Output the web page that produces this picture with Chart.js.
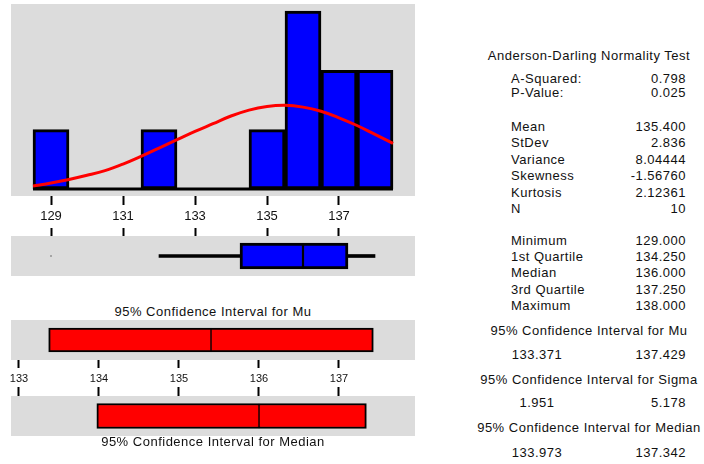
<!DOCTYPE html>
<html lang="en">
<head>
<meta charset="UTF-8">
<title>Graphical Summary</title>
<script src="https://cdn.jsdelivr.net/npm/chart.js"></script>
<style>
  body {
    margin: 0;
    width: 704px;
    height: 464px;
    position: relative;
    overflow: hidden;
    background: #ffffff;
    color: #000000;
    font-family: 'Liberation Sans', Arial, sans-serif;
  }
  canvas { position: absolute; left: 0; }
  .txt {
    position: absolute;
    font-size: 13px;
    line-height: 16px;
    letter-spacing: 0.5px;
    white-space: nowrap;
    color: #111;
  }
  .c { text-align: center; }
  .r { text-align: right; }
</style>
</head>
<body>
<canvas id="histChart" width="415" height="216" style="top:4px"></canvas>
<canvas id="boxChart" width="415" height="48" style="top:228px"></canvas>
<canvas id="muChart" width="415" height="67" style="top:320px"></canvas>
<canvas id="medianChart" width="415" height="49" style="top:387px"></canvas>
<div id="labels"></div>

<script>
// histogram bins (midpoints) and counts
const bins = [129, 130, 131, 132, 133, 134, 135, 136, 137, 138];
const counts = [1, 0, 0, 1, 0, 0, 1, 3, 2, 2];

// fitted normal curve, read at half-unit steps
const fitX = [128.5, 129, 129.5, 130, 130.5, 131, 131.5, 132, 132.5, 133, 133.5,
              134, 134.5, 135, 135.5, 136, 136.5, 137, 137.5, 138, 138.5];
const fitY = [0.05, 0.10, 0.16, 0.23, 0.31, 0.42, 0.55, 0.69, 0.83, 0.97, 1.10,
              1.23, 1.33, 1.39, 1.41, 1.38, 1.31, 1.20, 1.07, 0.92, 0.77];

const histTicks = [129, 131, 133, 135, 137];
const ciTicks = [133, 134, 135, 136, 137];

// summary table
const adNames = ['A-Squared:', 'P-Value:'];
const adValues = [0.798, 0.025];
const statNames = ['Mean', 'StDev', 'Variance', 'Skewness', 'Kurtosis', 'N'];
const statValues = [135.4, 2.836, 8.04444, -1.5676, 2.12361, 10];
const statDigits = [3, 3, 5, 5, 5, 0];
const quartNames = ['Minimum', '1st Quartile', 'Median', '3rd Quartile', 'Maximum'];
const quartValues = [129, 134.25, 136, 137.25, 138];

const whiskerLow = 132;
const outliers = [129];

const ciMu = [133.371, 137.429];
const ciSigma = [1.951, 5.178];
const ciMedian = [133.973, 137.342];

const FONT = "'Liberation Sans', Arial, sans-serif";
const BLUE = '#0000ff';
const RED = '#ff0000';

const mean = statValues[0];
const [minVal, q1, median, q3, maxVal] = quartValues;

// grey panel behind each plot area
const panelBg = {
  id: 'panelBg',
  beforeDraw(chart) {
    const { ctx, chartArea: a } = chart;
    ctx.save();
    ctx.fillStyle = '#dcdcdc';
    ctx.fillRect(a.left, a.top, a.width, a.height);
    ctx.restore();
  }
};

function xAxis(min, max, ticks, pos, tickLen, fontSize, axisH) {
  return {
    type: 'linear',
    position: pos,
    min: min,
    max: max,
    bounds: 'data',
    offset: false,
    beginAtZero: false,
    grid: {
      display: true,
      offset: false,
      drawOnChartArea: false,
      drawTicks: true,
      tickLength: tickLen,
      tickWidth: 2,
      tickColor: '#000'
    },
    border: { display: false },
    ticks: {
      display: fontSize > 0,
      color: '#111',
      font: { family: FONT, size: fontSize || 12 },
      padding: 4,
      maxRotation: 0,
      autoSkip: false
    },
    afterBuildTicks: s => { s.ticks = ticks.map(v => ({ value: v })); },
    afterFit: s => { s.height = axisH; s.paddingLeft = 0; s.paddingRight = 0; }
  };
}

const baseOpts = {
  responsive: false,
  animation: false,
  events: [],
  layout: { autoPadding: false, padding: { left: 11, right: 0, top: 0, bottom: 0 } },
  plugins: { legend: { display: false }, tooltip: { enabled: false } }
};

// x ranges: histogram/boxplot at 36 px per unit, interval plots at 80 px per unit
const histMin = 129 - 40 / 36, histMax = histMin + 404 / 36;
const ciMin = 133 - 8 / 80, ciMax = ciMin + 404 / 80;

// histogram with normal fit
new Chart(document.getElementById('histChart'), {
  type: 'bar',
  data: {
    datasets: [
      {
        type: 'line',
        data: fitX.map((x, i) => ({ x: x, y: fitY[i] })),
        borderColor: RED,
        borderWidth: 3,
        pointRadius: 0,
        tension: 0.4,
        order: 0
      },
      {
        type: 'bar',
        data: bins.map((b, i) => ({ x: b, y: counts[i] })),
        backgroundColor: BLUE,
        borderColor: '#000',
        borderWidth: 3,
        borderSkipped: false,
        barPercentage: 1,
        categoryPercentage: 1,
        order: 1
      },
      {
        type: 'line',
        data: [{ x: bins[0] - 0.5, y: 0 }, { x: bins[bins.length - 1] + 0.5, y: 0 }],
        borderColor: '#000',
        borderWidth: 3,
        pointRadius: 0,
        order: 2
      }
    ]
  },
  options: {
    ...baseOpts,
    scales: {
      x: xAxis(histMin, histMax, histTicks, 'bottom', 9, 13, 24),
      y: { type: 'linear', display: false, min: -7 / 59, max: 3 + 7 / 59 }
    }
  },
  plugins: [panelBg]
});

// split bar: two halves sharing a thin middle edge
function splitBar(lo, mid, hi, color, edge, thickness) {
  const half = edge / 2;
  return [
    {
      data: [[lo, mid]],
      backgroundColor: color,
      borderColor: '#000',
      borderWidth: { top: edge, bottom: edge, left: edge, right: half },
      borderSkipped: false,
      barThickness: thickness,
      grouped: false,
      order: 1
    },
    {
      data: [[mid, hi]],
      backgroundColor: color,
      borderColor: '#000',
      borderWidth: { top: edge, bottom: edge, left: half, right: edge },
      borderSkipped: false,
      barThickness: thickness,
      grouped: false,
      order: 1
    }
  ];
}

function whisker(lo, hi) {
  return {
    data: [[lo, hi]],
    backgroundColor: '#000',
    borderWidth: 0,
    barThickness: 3,
    grouped: false,
    order: 2
  };
}

// boxplot
new Chart(document.getElementById('boxChart'), {
  type: 'bar',
  data: {
    labels: ['box'],
    datasets: [
      ...splitBar(q1, median, q3, BLUE, 3, 26),
      whisker(whiskerLow, q1),
      whisker(q3, maxVal),
      {
        type: 'line',
        data: outliers,
        showLine: false,
        pointStyle: 'rect',
        pointRadius: 0.7,
        pointBackgroundColor: '#000',
        pointBorderWidth: 0,
        order: 0
      }
    ]
  },
  options: {
    ...baseOpts,
    indexAxis: 'y',
    scales: {
      x: xAxis(histMin, histMax, histTicks, 'top', 8, 0, 8),
      y: { type: 'category', display: false, offset: true }
    }
  },
  plugins: [panelBg]
});

// confidence interval for mu
new Chart(document.getElementById('muChart'), {
  type: 'bar',
  data: {
    labels: ['mu'],
    datasets: splitBar(ciMu[0], mean, ciMu[1], RED, 2, 24)
  },
  options: {
    ...baseOpts,
    indexAxis: 'y',
    scales: {
      x: xAxis(ciMin, ciMax, ciTicks, 'bottom', 8, 11, 27),
      y: { type: 'category', display: false, offset: true }
    }
  },
  plugins: [panelBg]
});

// confidence interval for median
new Chart(document.getElementById('medianChart'), {
  type: 'bar',
  data: {
    labels: ['median'],
    datasets: splitBar(ciMedian[0], median, ciMedian[1], RED, 2, 25)
  },
  options: {
    ...baseOpts,
    indexAxis: 'y',
    scales: {
      x: xAxis(ciMin, ciMax, ciTicks, 'top', 9, 0, 9),
      y: { type: 'category', display: false, offset: true }
    }
  },
  plugins: [panelBg]
});

// text blocks
const host = document.getElementById('labels');
function place(text, left, centerY, cls, width) {
  const d = document.createElement('div');
  d.className = 'txt ' + (cls || '');
  d.textContent = text;
  d.style.top = (centerY - 8) + 'px';
  if (cls === 'r') {
    d.style.right = (704 - left) + 'px';
  } else {
    d.style.left = left + 'px';
    if (width) d.style.width = width + 'px';
  }
  host.appendChild(d);
}

const labelX = 511, valueRight = 686;

place('Anderson-Darling Normality Test', 470, 56, 'c', 238);
adNames.forEach((n, i) => {
  place(n, labelX, 79 + i * 14);
  place(adValues[i].toFixed(3), valueRight, 79 + i * 14, 'r');
});
statNames.forEach((n, i) => {
  place(n, labelX, 127 + i * 16.4);
  place(statValues[i].toFixed(statDigits[i]), valueRight, 127 + i * 16.4, 'r');
});
quartNames.forEach((n, i) => {
  place(n, labelX, 241 + i * 16.2);
  place(quartValues[i].toFixed(3), valueRight, 241 + i * 16.2, 'r');
});

[['Mu', ciMu, 331, 355], ['Sigma', ciSigma, 380, 403], ['Median', ciMedian, 428, 453]]
  .forEach(([name, ci, ty, vy]) => {
    place('95% Confidence Interval for ' + name, 470, ty, 'c', 238);
    place(ci[0].toFixed(3), 497, vy, 'c', 80);
    place(ci[1].toFixed(3), valueRight, vy, 'r');
  });

place('95% Confidence Interval for Mu', 11, 312, 'c', 404);
place('95% Confidence Interval for Median', 11, 442, 'c', 404);
</script>
</body>
</html>
